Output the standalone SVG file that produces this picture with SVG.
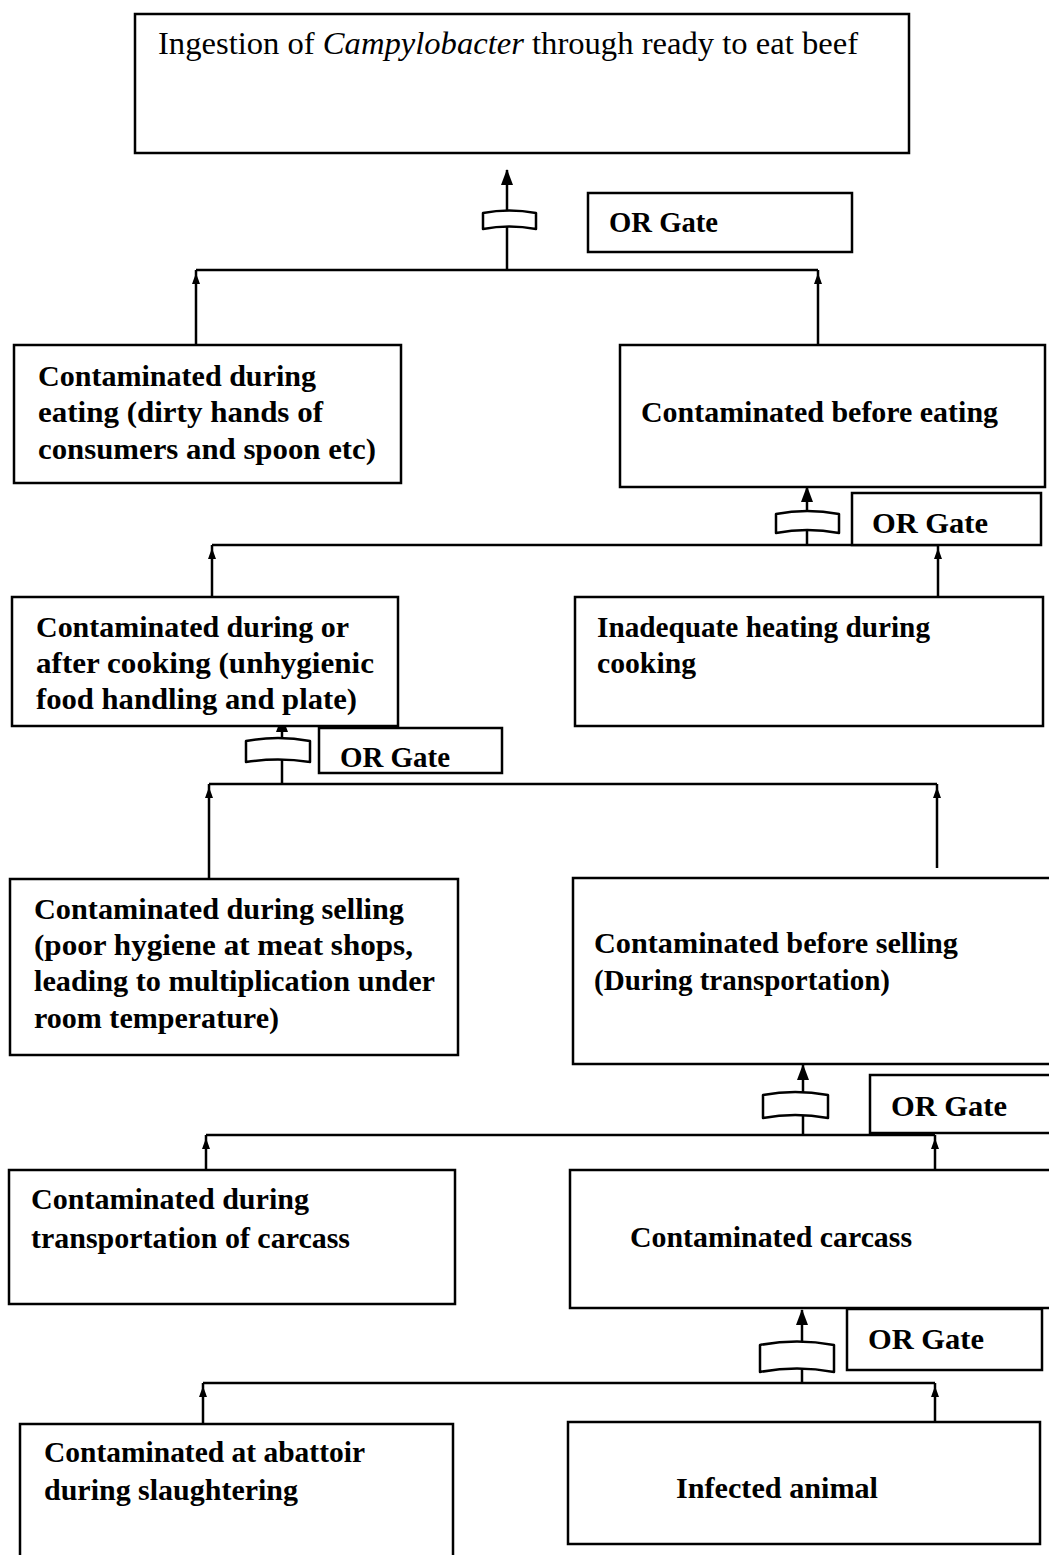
<svg xmlns="http://www.w3.org/2000/svg" width="1049" height="1555" viewBox="0 0 1049 1555">
<defs>
<style>
.box{fill:#fff;stroke:#000;stroke-width:2.5}
.ln{fill:none;stroke:#000;stroke-width:2.5}
.gate{fill:#fff;stroke:#000;stroke-width:2.5;stroke-linejoin:round}
.t{font-family:"Liberation Serif","Times New Roman",serif;font-size:30px;font-weight:bold;fill:#000}
.tt{font-family:"Liberation Serif","Times New Roman",serif;font-size:31px;fill:#000}
</style>
<marker id="big" viewBox="0 0 16 12" refX="15" refY="6" markerWidth="16" markerHeight="12" markerUnits="userSpaceOnUse" orient="auto">
<path d="M0,0 L16,6 L0,12 Z" fill="#000"/>
</marker>
<marker id="sm" viewBox="0 0 14 8" refX="14" refY="4" markerWidth="14" markerHeight="8" markerUnits="userSpaceOnUse" orient="auto">
<path d="M0,0 L11,4 L0,8 Z" fill="#000"/>
</marker>
</defs>
<rect width="1049" height="1555" fill="#fff"/>

<g id="connectors">
<line class="ln" x1="196" y1="270" x2="818" y2="270"/>
<line class="ln" x1="196" y1="345" x2="196" y2="270" marker-end="url(#sm)"/>
<line class="ln" x1="818" y1="345" x2="818" y2="270" marker-end="url(#sm)"/>
<line class="ln" x1="507" y1="270" x2="507" y2="170" marker-end="url(#big)"/>

<line class="ln" x1="212" y1="545" x2="938" y2="545"/>
<line class="ln" x1="212" y1="597" x2="212" y2="545" marker-end="url(#sm)"/>
<line class="ln" x1="938" y1="597" x2="938" y2="545" marker-end="url(#sm)"/>
<line class="ln" x1="807" y1="545" x2="807" y2="487" marker-end="url(#big)"/>

<line class="ln" x1="209" y1="784" x2="937" y2="784"/>
<line class="ln" x1="209" y1="879" x2="209" y2="784" marker-end="url(#sm)"/>
<line class="ln" x1="937" y1="868" x2="937" y2="784" marker-end="url(#sm)"/>
<line class="ln" x1="282" y1="784" x2="282" y2="717" marker-end="url(#big)"/>

<line class="ln" x1="206" y1="1135" x2="935" y2="1135"/>
<line class="ln" x1="206" y1="1170" x2="206" y2="1135" marker-end="url(#sm)"/>
<line class="ln" x1="935" y1="1170" x2="935" y2="1135" marker-end="url(#sm)"/>
<line class="ln" x1="803" y1="1135" x2="803" y2="1065" marker-end="url(#big)"/>

<line class="ln" x1="203" y1="1383" x2="935" y2="1383"/>
<line class="ln" x1="203" y1="1424" x2="203" y2="1383" marker-end="url(#sm)"/>
<line class="ln" x1="935" y1="1422" x2="935" y2="1383" marker-end="url(#sm)"/>
<line class="ln" x1="802" y1="1383" x2="802" y2="1310" marker-end="url(#big)"/>
</g>

<g id="gates">
<path class="gate" d="M483,213 Q509,208 536,213 L536,229 Q509,224 483,229 Z"/>
<path class="gate" d="M776,514 Q807,508 839,514 L839,533 Q807,527 776,533 Z"/>
<path class="gate" d="M246,741 Q278,735 310,741 L310,762 Q278,757 246,762 Z"/>
<path class="gate" d="M763,1095 Q795,1089 828,1095 L828,1118 Q795,1112 763,1118 Z"/>
<path class="gate" d="M760,1345 Q797,1338 834,1345 L834,1372 Q797,1365 760,1372 Z"/>
</g>

<g id="n-top">
<rect class="box" x="135" y="14" width="774" height="139"/>
<text class="tt" x="158" y="54" textLength="700" lengthAdjust="spacingAndGlyphs">Ingestion of <tspan font-style="italic">Campylobacter</tspan> through ready to eat beef</text>
</g>

<g id="g-or1">
<rect class="box" x="588" y="193" width="264" height="59"/>
<text class="t" x="609" y="232" textLength="109" lengthAdjust="spacingAndGlyphs">OR Gate</text>
</g>

<g id="n-eating">
<rect class="box" x="14" y="345" width="387" height="138"/>
<text class="t" x="38" y="386" textLength="278" lengthAdjust="spacingAndGlyphs">Contaminated during</text>
<text class="t" x="38" y="422" textLength="285" lengthAdjust="spacingAndGlyphs">eating (dirty hands of</text>
<text class="t" x="38" y="459" textLength="338" lengthAdjust="spacingAndGlyphs">consumers and spoon etc)</text>
</g>

<g id="n-before-eating">
<rect class="box" x="620" y="345" width="425" height="142"/>
<text class="t" x="641" y="422" textLength="357" lengthAdjust="spacingAndGlyphs">Contaminated before eating</text>
</g>

<g id="g-or2">
<rect class="box" x="852" y="493" width="189" height="52"/>
<text class="t" x="872" y="533" textLength="116" lengthAdjust="spacingAndGlyphs">OR Gate</text>
</g>

<g id="n-cooking">
<rect class="box" x="12" y="597" width="386" height="129"/>
<text class="t" x="36" y="637" textLength="313" lengthAdjust="spacingAndGlyphs">Contaminated during or</text>
<text class="t" x="36" y="673" textLength="338" lengthAdjust="spacingAndGlyphs">after cooking (unhygienic</text>
<text class="t" x="36" y="709" textLength="321" lengthAdjust="spacingAndGlyphs">food handling and plate)</text>
</g>

<g id="n-heating">
<rect class="box" x="575" y="597" width="468" height="129"/>
<text class="t" x="597" y="637" textLength="333" lengthAdjust="spacingAndGlyphs">Inadequate heating during</text>
<text class="t" x="597" y="673" textLength="99" lengthAdjust="spacingAndGlyphs">cooking</text>
</g>

<g id="g-or3">
<rect class="box" x="319" y="728" width="183" height="45"/>
<text class="t" x="340" y="767" textLength="110" lengthAdjust="spacingAndGlyphs">OR Gate</text>
</g>

<g id="n-selling">
<rect class="box" x="10" y="879" width="448" height="176"/>
<text class="t" x="34" y="919" textLength="370" lengthAdjust="spacingAndGlyphs">Contaminated during selling</text>
<text class="t" x="34" y="955" textLength="379" lengthAdjust="spacingAndGlyphs">(poor hygiene at meat shops,</text>
<text class="t" x="34" y="991" textLength="401" lengthAdjust="spacingAndGlyphs">leading to multiplication under</text>
<text class="t" x="34" y="1028" textLength="245" lengthAdjust="spacingAndGlyphs">room temperature)</text>
</g>

<g id="n-before-selling">
<rect class="box" x="573" y="878" width="478" height="186"/>
<text class="t" x="594" y="953" textLength="364" lengthAdjust="spacingAndGlyphs">Contaminated before selling</text>
<text class="t" x="594" y="990" textLength="296" lengthAdjust="spacingAndGlyphs">(During transportation)</text>
</g>

<g id="g-or4">
<rect class="box" x="870" y="1075" width="181" height="58"/>
<text class="t" x="891" y="1116" textLength="116" lengthAdjust="spacingAndGlyphs">OR Gate</text>
</g>

<g id="n-transport">
<rect class="box" x="9" y="1170" width="446" height="134"/>
<text class="t" x="31" y="1209" textLength="278" lengthAdjust="spacingAndGlyphs">Contaminated during</text>
<text class="t" x="31" y="1248" textLength="319" lengthAdjust="spacingAndGlyphs">transportation of carcass</text>
</g>

<g id="n-carcass">
<rect class="box" x="570" y="1170" width="481" height="138"/>
<text class="t" x="630" y="1247" textLength="282" lengthAdjust="spacingAndGlyphs">Contaminated carcass</text>
</g>

<g id="g-or5">
<rect class="box" x="847" y="1309" width="195" height="61"/>
<text class="t" x="868" y="1349" textLength="116" lengthAdjust="spacingAndGlyphs">OR Gate</text>
</g>

<g id="n-abattoir">
<rect class="box" x="20" y="1424" width="433" height="140"/>
<text class="t" x="44" y="1462" textLength="321" lengthAdjust="spacingAndGlyphs">Contaminated at abattoir</text>
<text class="t" x="44" y="1500" textLength="254" lengthAdjust="spacingAndGlyphs">during slaughtering</text>
</g>

<g id="n-infected">
<rect class="box" x="568" y="1422" width="472" height="122"/>
<text class="t" x="676" y="1498" textLength="202" lengthAdjust="spacingAndGlyphs">Infected animal</text>
</g>
</svg>
